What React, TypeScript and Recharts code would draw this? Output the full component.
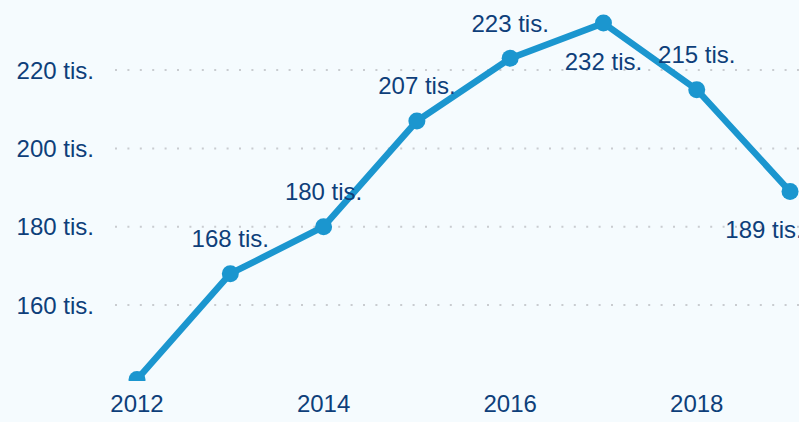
import React from "react";
import { LineChart, Line, XAxis, YAxis, CartesianGrid, LabelList } from "recharts";

const years = [2012, 2013, 2014, 2015, 2016, 2017, 2018, 2019];
const values = [141, 168, 180, 207, 223, 232, 215, 189];
const labelTexts = ["", "168 tis.", "180 tis.", "207 tis.", "223 tis.", "232 tis.", "215 tis.", "189 tis."];
const labelBelow = [false, false, false, false, false, true, false, true];
const xTicks = [2012, 2014, 2016, 2018];
const yTicks = [160, 180, 200, 220];

const data = years.map((y, i) => ({ year: y, value: values[i], label: labelTexts[i] }));

const TEXT = "#0e3f7a";
const LINE = "#1b96cf";
const FONT = "'Liberation Sans', Arial, sans-serif";

const renderLabel = (props: any) => {
  const { x, y, index } = props;
  const txt = labelTexts[index];
  if (!txt) return null;
  const below = labelBelow[index];
  const dx = index === years.length - 1 ? -26 : 0;
  return (
    <text
      x={x + dx}
      y={below ? y + 38 : y - 35}
      textAnchor="middle"
      dominantBaseline="central"
      fill={TEXT}
      fontSize={24}
      fontFamily={FONT}
    >
      {txt}
    </text>
  );
};

export default function App() {
  return (
    <div style={{ position: "absolute", left: 0, top: 0, width: 799, height: 422, background: "#f5fbfe" }}>
      <LineChart width={799} height={422} data={data} margin={{ top: 0, right: 0, bottom: 0, left: 0 }}>
        <CartesianGrid
          horizontal
          vertical={false}
          horizontalValues={yTicks}
          stroke="#c9ccd0"
          strokeWidth={2}
          strokeDasharray="2 10.4"
        />
        <XAxis
          dataKey="year"
          type="number"
          domain={[2011.764, 2019.096]}
          allowDataOverflow
          ticks={xTicks}
          axisLine={false}
          tickLine={false}
          tickSize={0}
          tickMargin={14}
          height={41}
          tick={{ fill: TEXT, fontSize: 24, fontFamily: FONT }}
        />
        <YAxis
          type="number"
          domain={[140.6, 237.9]}
          allowDataOverflow
          ticks={yTicks}
          axisLine={false}
          tickLine={false}
          tickSize={0}
          tickMargin={21}
          width={115}
          tickFormatter={(v: number) => `${v} tis.`}
          tick={{ fill: TEXT, fontSize: 24, fontFamily: FONT }}
        />
        <Line
          dataKey="value"
          stroke={LINE}
          strokeWidth={6.5}
          dot={{ r: 8.5, fill: LINE, stroke: "none" }}
          activeDot={false}
          isAnimationActive={false}
          type="linear"
        >
          <LabelList dataKey="label" content={renderLabel} />
        </Line>
      </LineChart>
    </div>
  );
}
